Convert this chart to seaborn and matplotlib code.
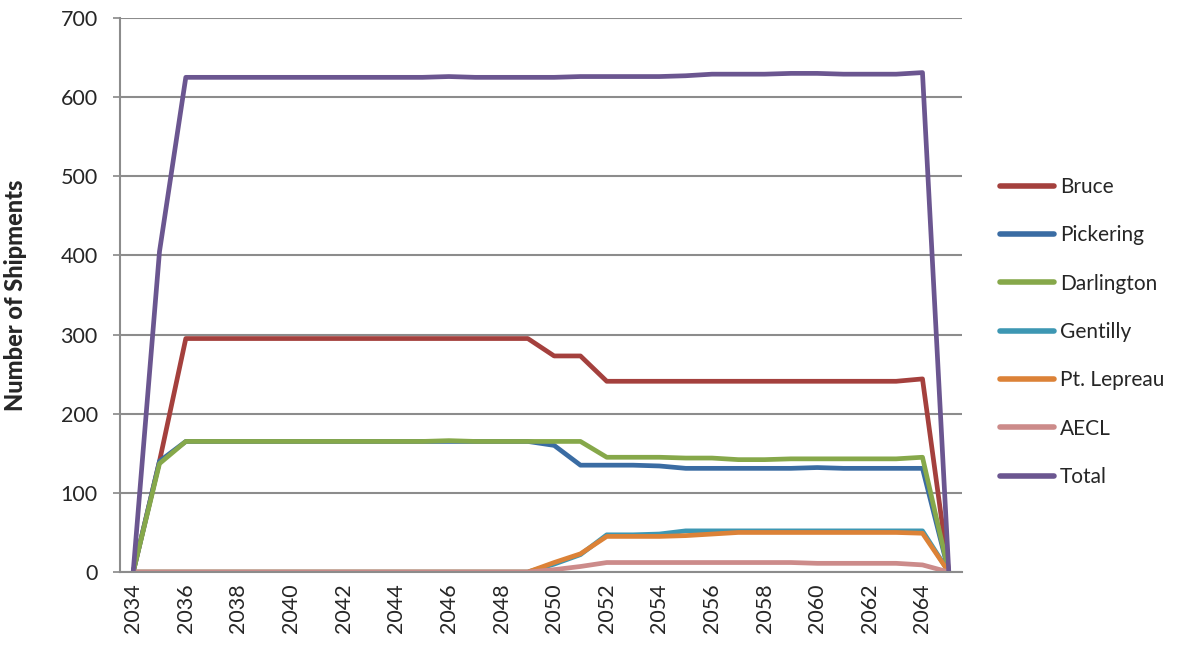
import matplotlib
matplotlib.use("Agg")
from matplotlib import pyplot as plt
import seaborn as sns
import pandas as pd

years = list(range(2034, 2066))

bruce = [0, 140] + [295] * 14 + [273, 273] + [241] * 12 + [244, 0]
pickering = [0, 140] + [165] * 14 + [160, 135, 135, 135, 134, 131, 131, 131, 131, 131,
                                     132, 131, 131, 131, 131, 0]
darlington = [0, 137] + [165] * 10 + [166] + [165] * 5 + [145, 145, 145, 144, 144, 142, 142,
                                                          143, 143, 143, 143, 143, 145, 0]
gentilly = [0] * 16 + [10, 22, 47, 47, 48] + [52] * 10 + [0]
lepreau = [0] * 16 + [12, 23, 45, 45, 45, 46, 48, 50, 50, 50, 50, 50, 50, 50, 49, 0]
aecl = [0] * 16 + [3, 7] + [12] * 8 + [11, 11, 11, 11, 9, 0]
total = [0, 405] + [625] * 10 + [626] + [625] * 4 + [626, 626, 626, 626, 627, 629, 629, 629,
                                                      630, 630, 629, 629, 629, 631, 0]

series = ["Bruce", "Pickering", "Darlington", "Gentilly", "Pt. Lepreau", "AECL", "Total"]
values = [bruce, pickering, darlington, gentilly, lepreau, aecl, total]
colors = ["#A4403D", "#3A6CA3", "#86A84A", "#3D97B3", "#DC8237", "#CC8B8A", "#6B5690"]

df = pd.concat([pd.DataFrame({"year": years, "shipments": v, "site": s})
                for s, v in zip(series, values)], ignore_index=True)

sns.set_theme(style="white")
plt.rcParams["font.family"] = ["Lato", "DejaVu Sans"]

fig = plt.figure(figsize=(11.92, 6.56), dpi=100)
ax = fig.add_axes([0.1007, 0.128, 0.7063, 0.8446])

sns.lineplot(data=df, x="year", y="shipments", hue="site", hue_order=series,
             palette=colors, linewidth=3.4, ax=ax, legend=True)

ax.set_xlim(2033.5, 2065.5)
ax.set_ylim(0, 700)
ax.set_yticks(range(0, 701, 100))
ax.set_xticks(range(2034, 2065, 2))
ax.set_xticklabels([str(y) for y in range(2034, 2065, 2)], rotation=90, fontsize=15.5)
ax.tick_params(axis="y", labelsize=15.5, length=5, color="#8C8C8C", pad=11, left=True)
ax.tick_params(axis="x", length=0, pad=8)
ax.yaxis.grid(True, color="#8C8C8C", linewidth=1.5)
ax.set_axisbelow(True)
for side in ["top", "right"]:
    ax.spines[side].set_visible(False)
for side in ["left", "bottom"]:
    ax.spines[side].set_color("#8C8C8C")
    ax.spines[side].set_linewidth(1.5)

ax.set_xlabel("")
ax.set_ylabel("Number of Shipments", fontsize=17, fontweight="black")
ax.yaxis.set_label_coords(-0.111, 0.5)

handles, labels = ax.get_legend_handles_labels()
for h in handles:
    h.set_linewidth(4)
ax.legend_.remove()
fig.legend(handles, labels, loc="center left", bbox_to_anchor=(0.823, 0.494),
           frameon=False, fontsize=15, handlelength=2.6, handletextpad=0.3,
           labelspacing=1.36)

fig.savefig("out.png", dpi=100)
